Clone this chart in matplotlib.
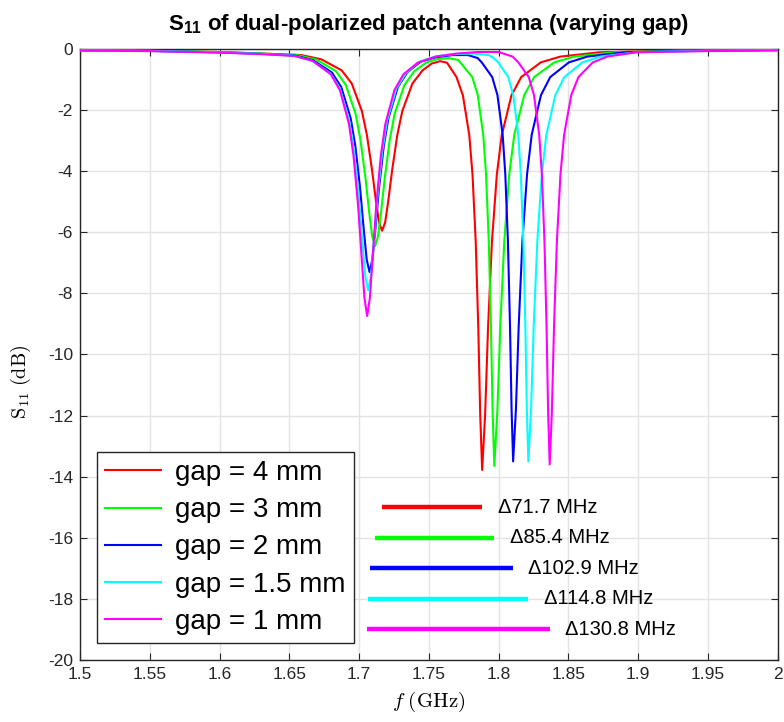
import matplotlib
matplotlib.use("Agg")
import matplotlib.pyplot as plt

plt.rcParams["font.family"] = ["Liberation Sans", "DejaVu Sans"]
plt.rcParams["axes.unicode_minus"] = False
plt.rcParams["mathtext.fontset"] = "custom"
plt.rcParams["mathtext.rm"] = "cmr10"
plt.rcParams["mathtext.it"] = "cmmi10"
plt.rcParams["mathtext.bf"] = "Liberation Sans:bold"

# Measured S11 traces (frequency in GHz, magnitude in dB) for each gap width
f_gap4 = [1.500, 1.550, 1.600, 1.630, 1.6585, 1.673, 1.6875, 1.69475, 1.702, 1.70563, 1.70925,
          1.71215, 1.71433, 1.7165, 1.71868, 1.72085, 1.72375, 1.72738, 1.731, 1.73825, 1.7455,
          1.752, 1.758, 1.763, 1.7698, 1.7744, 1.779, 1.7813, 1.7836, 1.78544, 1.78682, 1.7882,
          1.7903, 1.7924, 1.7952, 1.7987, 1.8022, 1.8092, 1.8162, 1.8302, 1.8442, 1.8722,
          1.920, 1.960, 2.000]
s_gap4 = [-0.04, -0.06, -0.10, -0.15, -0.20, -0.34, -0.70, -1.13, -2.03, -2.82, -3.95,
          -5.00, -5.68, -5.95, -5.68, -5.00, -3.95, -2.82, -2.03, -1.13, -0.70,
          -0.48, -0.40, -0.45, -0.92, -1.52, -2.83, -4.12, -6.32, -9.15, -12.0, -13.78,
          -12.0, -9.15, -6.32, -4.12, -2.83, -1.52, -0.92, -0.44, -0.25, -0.11,
          -0.06, -0.04, -0.03]

f_gap3 = [1.500, 1.550, 1.600, 1.630, 1.6555, 1.6695, 1.6835, 1.6905, 1.6975, 1.701, 1.7045,
          1.7073, 1.7094, 1.7115, 1.7136, 1.7157, 1.7185, 1.722, 1.7255, 1.7325, 1.7395,
          1.748, 1.756, 1.764, 1.771, 1.7732, 1.7811, 1.78505, 1.789, 1.79098, 1.79295, 1.79453,
          1.79572, 1.7969, 1.79905, 1.80119, 1.80405, 1.80763, 1.8112, 1.81835, 1.8255, 1.8398,
          1.8541, 1.8827, 1.930, 2.000]
s_gap3 = [-0.04, -0.06, -0.10, -0.15, -0.20, -0.35, -0.73, -1.18, -2.12, -2.97, -4.19,
          -5.37, -6.13, -6.45, -6.13, -5.37, -4.19, -2.97, -2.12, -1.18, -0.73,
          -0.45, -0.33, -0.30, -0.36, -0.48, -0.92, -1.51, -2.82, -4.10, -6.30, -9.10,
          -11.9, -13.65, -11.9, -9.10, -6.30, -4.10, -2.82, -1.51, -0.92, -0.44,
          -0.25, -0.11, -0.06, -0.03]

f_gap2 = [1.500, 1.550, 1.600, 1.630, 1.6535, 1.667, 1.6805, 1.68725, 1.694, 1.69738, 1.70075,
          1.70345, 1.70548, 1.7075, 1.70953, 1.71155, 1.71425, 1.71763, 1.721, 1.72775, 1.7345,
          1.744, 1.755, 1.767, 1.778, 1.785, 1.7879, 1.7954, 1.79915, 1.8029, 1.80478, 1.80665,
          1.80815, 1.80928, 1.8104, 1.8124, 1.8144, 1.81705, 1.82038, 1.8237, 1.83035, 1.837,
          1.8503, 1.8636, 1.8902, 1.940, 2.000]
s_gap2 = [-0.045, -0.065, -0.11, -0.16, -0.21, -0.37, -0.77, -1.25, -2.27, -3.20, -4.57,
          -5.96, -6.90, -7.30, -6.90, -5.96, -4.57, -3.20, -2.27, -1.25, -0.77,
          -0.42, -0.27, -0.20, -0.20, -0.30, -0.44, -0.92, -1.51, -2.81, -4.10, -6.28,
          -9.05, -11.8, -13.5, -11.8, -9.05, -6.28, -4.10, -2.81, -1.51, -0.92,
          -0.44, -0.25, -0.11, -0.06, -0.035]

f_gap15 = [1.500, 1.550, 1.600, 1.630, 1.6525, 1.666, 1.6795, 1.68625, 1.693, 1.69638, 1.69975,
           1.70245, 1.70448, 1.7065, 1.70853, 1.71055, 1.71325, 1.71663, 1.720, 1.72675, 1.7335,
           1.743, 1.755, 1.768, 1.782, 1.793, 1.7965, 1.7997, 1.8069, 1.8105, 1.8141, 1.8159,
           1.8177, 1.81914, 1.82022, 1.8213, 1.82324, 1.82517, 1.82775, 1.83098, 1.8342, 1.84065,
           1.8471, 1.860, 1.8729, 1.8987, 1.950, 2.000]
s_gap15 = [-0.045, -0.065, -0.11, -0.16, -0.22, -0.38, -0.80, -1.29, -2.36, -3.34, -4.82,
           -6.35, -7.44, -7.90, -7.44, -6.35, -4.82, -3.34, -2.36, -1.29, -0.80,
           -0.42, -0.24, -0.17, -0.15, -0.20, -0.30, -0.44, -0.92, -1.51, -2.81, -4.10,
           -6.28, -9.05, -11.8, -13.5, -11.8, -9.05, -6.28, -4.10, -2.81, -1.51,
           -0.92, -0.44, -0.25, -0.11, -0.06, -0.04]

f_gap1 = [1.500, 1.550, 1.600, 1.630, 1.6538, 1.6668, 1.6798, 1.6863, 1.6928, 1.69605, 1.6993,
          1.7019, 1.70385, 1.7058, 1.70775, 1.7097, 1.7123, 1.71555, 1.7188, 1.7253, 1.7318,
          1.742, 1.755, 1.770, 1.785, 1.800, 1.810, 1.8141, 1.8216, 1.82535, 1.8291, 1.83098,
          1.83285, 1.83435, 1.83548, 1.8366, 1.83815, 1.83969, 1.84175, 1.84433, 1.8469, 1.85205,
          1.8572, 1.8675, 1.8778, 1.8984, 1.950, 2.000]
s_gap1 = [-0.05, -0.07, -0.12, -0.17, -0.23, -0.39, -0.83, -1.35, -2.46, -3.51, -5.13,
          -6.86, -8.15, -8.74, -8.15, -6.86, -5.13, -3.51, -2.46, -1.35, -0.83,
          -0.45, -0.25, -0.15, -0.10, -0.10, -0.25, -0.44, -0.92, -1.51, -2.82, -4.10,
          -6.30, -9.10, -11.9, -13.6, -11.9, -9.10, -6.30, -4.10, -2.82, -1.51,
          -0.92, -0.44, -0.25, -0.11, -0.07, -0.05]

gap_labels = ["gap = 4 mm", "gap = 3 mm", "gap = 2 mm", "gap = 1.5 mm", "gap = 1 mm"]
colors = ["#ff0000", "#00ff00", "#0000ff", "#00ffff", "#ff00ff"]

# Resonance separation markers: band start/end (GHz), level (dB), text
band_start = [1.7165, 1.7115, 1.7075, 1.7065, 1.7058]
band_end = [1.7882, 1.7969, 1.8104, 1.8213, 1.8366]
band_level = [-15, -16, -17, -18, -19]
band_text = ["\u039471.7 MHz", "\u039485.4 MHz", "\u0394102.9 MHz", "\u0394114.8 MHz", "\u0394130.8 MHz"]

x_ticks = [1.5, 1.55, 1.6, 1.65, 1.7, 1.75, 1.8, 1.85, 1.9, 1.95, 2.0]
x_ticklabels = ["1.5", "1.55", "1.6", "1.65", "1.7", "1.75", "1.8", "1.85", "1.9", "1.95", "2"]
y_ticks = [-20, -18, -16, -14, -12, -10, -8, -6, -4, -2, 0]

fig = plt.figure(figsize=(7.84, 7.22), dpi=100)
ax = fig.add_axes([0.102, 0.0859, 0.890, 0.8463])

traces = [(f_gap4, s_gap4), (f_gap3, s_gap3), (f_gap2, s_gap2), (f_gap15, s_gap15), (f_gap1, s_gap1)]
for (fx, sy), c, lab in zip(traces, colors, gap_labels):
    ax.plot(fx, sy, color=c, lw=1.5, label=lab, zorder=3)

for x0, x1, lv, txt, c in zip(band_start, band_end, band_level, band_text, colors):
    ax.plot([x0, x1], [lv, lv], color=c, lw=3.2, solid_capstyle="butt", zorder=3)
    ax.text(x1 + 0.011, lv, txt, fontsize=14.5, va="center", ha="left", color="black")

ax.set_xlim(1.5, 2.0)
ax.set_ylim(-20, 0)
ax.set_xticks(x_ticks)
ax.set_xticklabels(x_ticklabels)
ax.set_yticks(y_ticks)
ax.set_yticklabels([str(v) for v in y_ticks])
ax.tick_params(direction="in", top=True, right=True, labelsize=12.5, length=5,
               color="#262626", labelcolor="#262626", pad=5)
ax.grid(True, color="#e3e3e3", lw=1.0, zorder=0)
ax.set_axisbelow(True)
for sp in ax.spines.values():
    sp.set_color("#262626")
    sp.set_linewidth(1.0)

ax.set_title(r"$\mathbf{S_{11}}$ of dual-polarized patch antenna (varying gap)",
             fontsize=16, fontweight="bold", pad=14)
ax.set_xlabel(r"$f$ $\mathrm{(GHz)}$", fontsize=15, labelpad=6)
ax.set_ylabel(r"$\mathrm{S}_{11}$ $\mathrm{(dB)}$", fontsize=14.5)
ax.yaxis.set_label_coords(-0.068, 0.455)

leg = ax.legend(loc="lower left", bbox_to_anchor=(0.0244, 0.0278), borderaxespad=0,
                fontsize=20, handlelength=2.0, labelspacing=0.4, fancybox=False,
                edgecolor="#262626", framealpha=1.0, borderpad=0.3, handletextpad=0.5)
leg.get_frame().set_linewidth(1.0)

fig.savefig("out.png", dpi=100)
